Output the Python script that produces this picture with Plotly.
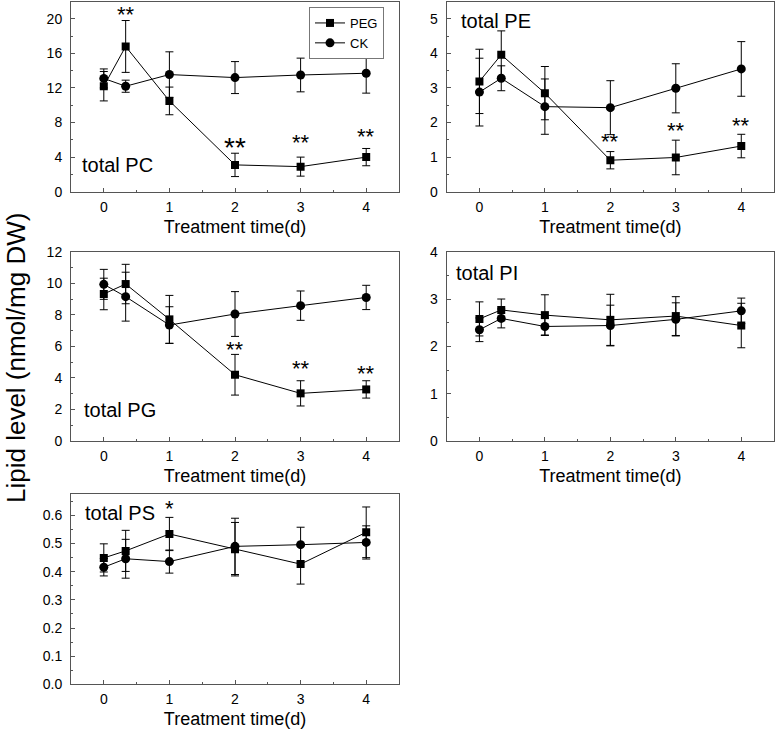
import plotly.graph_objects as go

# ---------------- data ----------------
x_days = [0, 1/3, 1, 2, 3, 4]
x_tick_vals = [0, 1, 2, 3, 4]
x_tick_text = ["0", "1", "2", "3", "4"]

pc_peg = [12.2, 16.8, 10.5, 3.1, 2.9, 4.0]
pc_peg_err = [1.7, 3.0, 1.6, 1.35, 1.1, 1.0]
pc_ck = [13.1, 12.2, 13.55, 13.2, 13.5, 13.7]
pc_ck_err = [1.1, 0.7, 2.63, 1.85, 1.95, 2.3]

pe_peg = [3.19, 3.96, 2.85, 0.91, 0.99, 1.32]
pe_peg_err = [0.93, 0.69, 0.77, 0.25, 0.5, 0.34]
pe_ck = [2.88, 3.28, 2.46, 2.43, 2.99, 3.55]
pe_ck_err = [0.98, 0.36, 0.8, 0.78, 0.71, 0.79]

pg_peg = [9.32, 9.95, 7.71, 4.2, 3.02, 3.27]
pg_peg_err = [1.0, 1.25, 1.52, 1.29, 0.8, 0.55]
pg_ck = [9.93, 9.15, 7.35, 8.05, 8.58, 9.1]
pg_ck_err = [0.95, 1.55, 1.16, 1.42, 0.93, 0.77]

pi_peg = [2.58, 2.77, 2.66, 2.56, 2.64, 2.44]
pi_peg_err = [0.36, 0.23, 0.43, 0.54, 0.41, 0.47]
pi_ck = [2.35, 2.59, 2.42, 2.44, 2.57, 2.75]
pi_ck_err = [0.25, 0.2, 0.18, 0.43, 0.35, 0.27]

ps_peg = [0.449, 0.474, 0.534, 0.48, 0.427, 0.54]
ps_peg_err = [0.05, 0.073, 0.059, 0.095, 0.071, 0.09]
ps_ck = [0.416, 0.446, 0.436, 0.49, 0.496, 0.504]
ps_ck_err = [0.031, 0.069, 0.041, 0.1, 0.062, 0.059]

panel_labels = ["total PC", "total PE", "total PG", "total PI", "total PS"]
label_x = [-0.37, -0.31, -0.34, -0.39, -0.32]
label_y = [3.1, 4.95, 1.96, 3.56, 0.608]

y_ranges = [[0, 22], [0, 5.5], [0, 12], [0, 4], [0, 0.675]]
y_dticks = [4, 1, 2, 1, 0.1]
y_formats = ["d", "d", "d", "d", ".1f"]

# significance marks: (panel, x, y, text, size)
star_panel = [1, 1, 1, 1, 2, 2, 2, 3, 3, 3, 5]
star_x = [1/3, 2, 3, 4, 2, 3, 4, 2, 3, 4, 1]
star_y = [21.0, 5.8, 6.2, 6.8, 1.57, 1.88, 2.03, 6.08, 4.82, 4.54, 0.638]
star_text = ["**", "**", "**", "**", "**", "**", "**", "**", "**", "**", "*"]
star_size = [22, 28, 22, 22, 22, 22, 22, 22, 22, 22, 22]

x_title = "Treatment time(d)"
y_title = "Lipid level (nmol/mg DW)"

series = [
    (pc_peg, pc_peg_err, pc_ck, pc_ck_err),
    (pe_peg, pe_peg_err, pe_ck, pe_ck_err),
    (pg_peg, pg_peg_err, pg_ck, pg_ck_err),
    (pi_peg, pi_peg_err, pi_ck, pi_ck_err),
    (ps_peg, ps_peg_err, ps_ck, ps_ck_err),
]

# ---------------- layout geometry ----------------
W, H = 778, 730
col_x = [(71 / W, 399 / W), (446.7 / W, 774 / W)]
row_y = [(1 - 191.7 / H, 1 - 1.5 / H), (1 - 441 / H, 1 - 251.7 / H), (1 - 684.3 / H, 1 - 494.3 / H)]
panel_pos = [(0, 0), (0, 1), (1, 0), (1, 1), (2, 0)]

FONT = "Liberation Sans, Arial, sans-serif"
AX_COLOR = "#555555"

fig = go.Figure()

for i, (peg, peg_err, ck, ck_err) in enumerate(series):
    n = i + 1
    xa = "x" if n == 1 else f"x{n}"
    ya = "y" if n == 1 else f"y{n}"
    fig.add_trace(go.Scatter(
        x=x_days, y=peg, name="PEG", mode="lines+markers",
        xaxis=xa, yaxis=ya, showlegend=(n == 1),
        line=dict(color="black", width=1),
        marker=dict(symbol="square", size=8, color="black"),
        error_y=dict(type="data", array=peg_err, visible=True,
                     color="black", thickness=1, width=4),
    ))
    fig.add_trace(go.Scatter(
        x=x_days, y=ck, name="CK", mode="lines+markers",
        xaxis=xa, yaxis=ya, showlegend=(n == 1),
        line=dict(color="black", width=1),
        marker=dict(symbol="circle", size=9, color="black"),
        error_y=dict(type="data", array=ck_err, visible=True,
                     color="black", thickness=1, width=4),
    ))

layout = dict(
    template="none",
    width=W, height=H,
    margin=dict(l=0, r=0, t=0, b=0, autoexpand=False),
    paper_bgcolor="white", plot_bgcolor="white",
    font=dict(family=FONT, color="black", size=14),
    showlegend=True,
    legend=dict(
        x=384 / W, y=1 - 7 / H, xanchor="right", yanchor="top",
        bordercolor="#777777", borderwidth=1, bgcolor="white",
        font=dict(size=13, family=FONT), tracegroupgap=0,
        itemwidth=30,
    ),
)

annotations = []
for i in range(5):
    n = i + 1
    r, c = panel_pos[i]
    xk = "xaxis" if n == 1 else f"xaxis{n}"
    yk = "yaxis" if n == 1 else f"yaxis{n}"
    ya_name = "y" if n == 1 else f"y{n}"
    xa_name = "x" if n == 1 else f"x{n}"
    layout[xk] = dict(
        domain=list(col_x[c]), anchor=ya_name, automargin=False,
        range=[-0.5, 4.5], tickvals=x_tick_vals, ticktext=x_tick_text,
        ticks="inside", ticklen=4, tickcolor=AX_COLOR, tickwidth=1,
        minor=dict(ticks="inside", ticklen=2, dtick=0.5, tick0=0, tickcolor=AX_COLOR),
        showline=True, linecolor=AX_COLOR, linewidth=1, mirror=True,
        showgrid=False, zeroline=False,
        tickfont=dict(size=14), ticklabelstandoff=2,
        title=dict(text=x_title, font=dict(size=18), standoff=6),
    )
    layout[yk] = dict(
        domain=list(row_y[r]), anchor=xa_name, automargin=False,
        range=y_ranges[i], dtick=y_dticks[i], tick0=0, tickformat=y_formats[i],
        ticks="inside", ticklen=4, tickcolor=AX_COLOR, tickwidth=1,
        minor=dict(ticks="inside", ticklen=2, dtick=y_dticks[i] / 2, tick0=0, tickcolor=AX_COLOR),
        showline=True, linecolor=AX_COLOR, linewidth=1, mirror=True,
        showgrid=False, zeroline=False,
        tickfont=dict(size=14), ticklabelstandoff=5,
    )
    annotations.append(dict(
        x=label_x[i], y=label_y[i], xref=xa_name, yref=ya_name,
        text=panel_labels[i], showarrow=False, xanchor="left", yanchor="middle",
        font=dict(size=20, family=FONT),
    ))

for p, sx, sy, st, ss in zip(star_panel, star_x, star_y, star_text, star_size):
    xa_name = "x" if p == 1 else f"x{p}"
    ya_name = "y" if p == 1 else f"y{p}"
    annotations.append(dict(
        x=sx, y=sy, xref=xa_name, yref=ya_name, text=st, showarrow=False,
        xanchor="center", yanchor="middle", yshift=-int(ss * 0.22),
        font=dict(size=ss, family=FONT),
    ))

annotations.append(dict(
    x=0, y=1 - 358 / H, xref="paper", yref="paper",
    text=y_title, showarrow=False, textangle=-90,
    xanchor="left", yanchor="middle", borderpad=0,
    font=dict(size=26, family=FONT),
))

layout["annotations"] = annotations
fig.update_layout(**layout)
fig.write_html(
    "out.html",
    config={"displayModeBar": False},
    post_script="document.body.style.margin='0';document.body.style.overflow='hidden';",
)
